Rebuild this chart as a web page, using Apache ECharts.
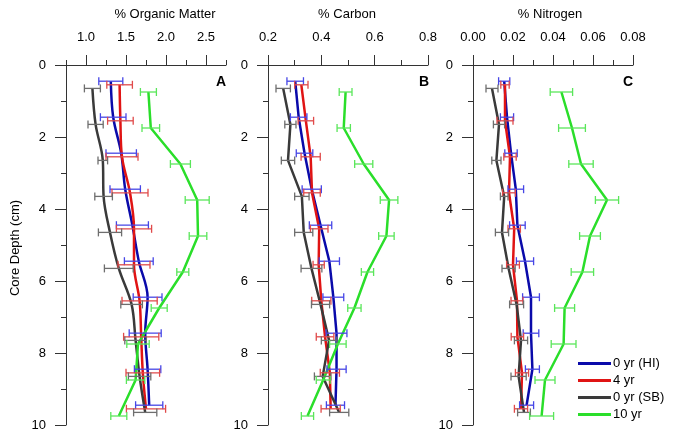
<!DOCTYPE html>
<html><head><meta charset="utf-8">
<script src="https://cdn.jsdelivr.net/npm/echarts@6/dist/echarts.min.js"></script>
<style>html,body{margin:0;padding:0;background:#fff}#c{width:677px;height:437px}</style>
</head><body><div id="c"></div>
<script>
// ---- data ----
const seriesNames = ['0 yr (HI)', '4 yr', '0 yr (SB)', '10 yr'];
const panelTitles = ['% Organic Matter', '% Carbon', '% Nitrogen'];
const panelLetters = ['A', 'B', 'C'];
const depthTicks = [0, 2, 4, 6, 8, 10];

const depthHI = [0.45, 1.45, 2.45, 3.45, 4.45, 5.45, 6.45, 7.45, 8.45, 9.45];
const depth4  = [0.55, 1.55, 2.55, 3.55, 4.55, 5.55, 6.55, 7.55, 8.55, 9.55];
const depthSB = [0.65, 1.65, 2.65, 3.65, 4.65, 5.65, 6.65, 7.65, 8.65, 9.65];
const depth10 = [0.75, 1.75, 2.75, 3.75, 4.75, 5.75, 6.75, 7.75, 8.75, 9.75];

const omHI = [1.31, 1.34, 1.44, 1.49, 1.58, 1.66, 1.77, 1.74, 1.77, 1.79];
const omHIErr = [0.15, 0.16, 0.19, 0.19, 0.20, 0.18, 0.18, 0.20, 0.165, 0.17];
const om4 = [1.42, 1.43, 1.45, 1.55, 1.60, 1.60, 1.67, 1.69, 1.71, 1.75];
const om4Err = [0.16, 0.16, 0.20, 0.225, 0.22, 0.20, 0.22, 0.22, 0.21, 0.245];
const omSB = [1.08, 1.12, 1.21, 1.22, 1.30, 1.41, 1.57, 1.62, 1.67, 1.74];
const omSBErr = [0.10, 0.095, 0.06, 0.11, 0.145, 0.18, 0.135, 0.135, 0.14, 0.145];
const om10 = [1.78, 1.81, 2.18, 2.39, 2.40, 2.21, 1.915, 1.65, 1.62, 1.41];
const om10Err = [0.10, 0.11, 0.125, 0.15, 0.11, 0.075, 0.10, 0.14, 0.115, 0.10];

const cHI = [0.302, 0.315, 0.337, 0.364, 0.397, 0.43, 0.445, 0.457, 0.457, 0.453];
const cHIErr = [0.031, 0.031, 0.031, 0.036, 0.042, 0.038, 0.039, 0.039, 0.036, 0.034];
const c4 = [0.325, 0.342, 0.36, 0.365, 0.392, 0.39, 0.40, 0.414, 0.432, 0.435];
const c4Err = [0.025, 0.029, 0.036, 0.031, 0.033, 0.021, 0.036, 0.033, 0.036, 0.036];
const cSB = [0.257, 0.284, 0.275, 0.327, 0.334, 0.363, 0.397, 0.429, 0.405, 0.467];
const cSBErr = [0.027, 0.021, 0.025, 0.027, 0.034, 0.039, 0.034, 0.029, 0.031, 0.036];
const c10 = [0.491, 0.484, 0.559, 0.654, 0.644, 0.573, 0.524, 0.462, 0.407, 0.348];
const c10Err = [0.024, 0.025, 0.034, 0.033, 0.029, 0.023, 0.025, 0.031, 0.026, 0.023];

const nHI = [0.0156, 0.017, 0.019, 0.0214, 0.0222, 0.026, 0.029, 0.029, 0.0297, 0.0268];
const nHIErr = [0.0028, 0.0033, 0.0031, 0.0039, 0.0039, 0.0043, 0.0042, 0.0039, 0.0035, 0.0035];
const n4 = [0.016, 0.016, 0.0185, 0.018, 0.0206, 0.020, 0.022, 0.0222, 0.0245, 0.024];
const n4Err = [0.0021, 0.004, 0.0031, 0.0032, 0.0031, 0.0032, 0.003, 0.0031, 0.0033, 0.0033];
const nSB = [0.0095, 0.013, 0.0117, 0.0156, 0.0145, 0.0178, 0.0218, 0.024, 0.0228, 0.0255];
const nSBErr = [0.003, 0.0028, 0.0023, 0.0019, 0.0033, 0.0033, 0.0035, 0.0033, 0.0038, 0.0032];
const n10 = [0.0442, 0.0495, 0.054, 0.067, 0.0585, 0.0547, 0.0458, 0.0453, 0.036, 0.0343];
const n10Err = [0.0056, 0.0067, 0.0061, 0.0058, 0.0052, 0.0056, 0.005, 0.0062, 0.005, 0.006];

// ---- styling / layout ----
const FONT = 'Liberation Sans, Arial, sans-serif';
const lineColors = ['#0a0aaa', '#e01414', '#3a3a3a', '#2ade2a'];
const errColors  = ['#4646e6', '#e04a4a', '#6e6e6e', '#5ae65a'];
const depths = [depthHI, depth4, depthSB, depth10];
const panels = [
  { vals: [omHI, om4, omSB, om10], errs: [omHIErr, om4Err, omSBErr, om10Err],
    min: 0.75, max: 2.75, minor: 0.25, majors: [1, 1.5, 2, 2.5], dec: 1, left: 66, letterX: 221, smooth: [0.35, 0.35, 0.35, 0] },
  { vals: [cHI, c4, cSB, c10], errs: [cHIErr, c4Err, cSBErr, c10Err],
    min: 0.2, max: 0.8, minor: 0.1, majors: [0.2, 0.4, 0.6, 0.8], dec: 1, left: 268, letterX: 424, smooth: [0, 0, 0, 0] },
  { vals: [nHI, n4, nSB, n10], errs: [nHIErr, n4Err, nSBErr, n10Err],
    min: 0, max: 0.08, minor: 0.01, majors: [0, 0.02, 0.04, 0.06, 0.08], dec: 2, left: 473, letterX: 628, smooth: [0, 0, 0, 0] }
];
const GTOP = 65, GH = 360, GW = 160;
const axisCol = '#333';

const grid = [], xAxis = [], yAxis = [], series = [], graphic = [];
panels.forEach((p, g) => {
  grid.push({ left: p.left, top: GTOP, width: GW, height: GH });
  xAxis.push({
    type: 'value', gridIndex: g, position: 'top', min: p.min, max: p.max, interval: p.minor,
    axisLine: { show: true, onZero: false, lineStyle: { color: axisCol, width: 1 } },
    axisTick: { show: true, length: 10, customValues: p.majors, lineStyle: { color: axisCol } },
    axisLabel: { show: true, customValues: p.majors, margin: 21, fontSize: 13, color: '#000', fontFamily: FONT,
      formatter: v => Number(v).toFixed(p.dec) },
    splitLine: { show: false }
  });
  xAxis.push({
    type: 'value', gridIndex: g, position: 'top', min: p.min, max: p.max, interval: p.minor,
    axisLine: { show: false, onZero: false },
    axisTick: { show: true, length: 5, lineStyle: { color: axisCol } },
    axisLabel: { show: false }, splitLine: { show: false }
  });
  yAxis.push({
    type: 'value', gridIndex: g, inverse: true, min: 0, max: 10, interval: 2, position: 'left',
    axisLine: { show: true, onZero: false, lineStyle: { color: axisCol, width: 1 } },
    axisTick: { show: true, length: 11, lineStyle: { color: axisCol } },
    axisLabel: { show: true, margin: 20, fontSize: 13, color: '#000', fontFamily: FONT,
      formatter: v => String(v) },
    splitLine: { show: false }
  });
  yAxis.push({
    type: 'value', gridIndex: g, inverse: true, min: 0, max: 10, interval: 1, position: 'left',
    axisLine: { show: false, onZero: false },
    axisTick: { show: true, length: 5, lineStyle: { color: axisCol } },
    axisLabel: { show: false }, splitLine: { show: false }
  });

  for (let s = 0; s < 4; s++) {
    const vals = p.vals[s], dep = depths[s];
    series.push({
      name: seriesNames[s], type: 'line', xAxisIndex: 2 * g, yAxisIndex: 2 * g,
      data: vals.map((v, i) => [v, dep[i]]),
      symbol: 'none', silent: true, animation: false, z: 2, smooth: p.smooth[s] || false,
      lineStyle: { color: lineColors[s], width: 2.5 }, itemStyle: { color: lineColors[s] }
    });
  }
  for (let s = 0; s < 4; s++) {
    const vals = p.vals[s], errs = p.errs[s], dep = depths[s];
    const col = errColors[s];
    series.push({
      name: seriesNames[s], type: 'custom', xAxisIndex: 2 * g, yAxisIndex: 2 * g,
      data: vals.map((v, i) => [v, dep[i], errs[i]]),
      encode: { x: 0, y: 1 }, animation: false, silent: true, z: 3,
      itemStyle: { color: lineColors[s] },
      renderItem: (params, api) => {
        const x = api.value(0), y = api.value(1), e = api.value(2);
        const a = api.coord([x - e, y]), b = api.coord([x + e, y]);
        const st = { stroke: col, lineWidth: 1.3, fill: null };
        const h = 4;
        return { type: 'group', children: [
          { type: 'line', shape: { x1: a[0], y1: a[1], x2: b[0], y2: b[1] }, style: st },
          { type: 'line', shape: { x1: a[0], y1: a[1] - h, x2: a[0], y2: a[1] + h }, style: st },
          { type: 'line', shape: { x1: b[0], y1: b[1] - h, x2: b[0], y2: b[1] + h }, style: st }
        ]};
      }
    });
  }
  graphic.push({ type: 'text', x: p.letterX, y: 82,
    style: { text: panelLetters[g], font: 'bold 14px ' + FONT, fill: '#000', textAlign: 'center', textVerticalAlign: 'middle' } });
});

const titleX = [165, 347, 550];
panelTitles.forEach((t, i) => graphic.push({ type: 'text', x: titleX[i], y: 14,
  style: { text: t, font: '13px ' + FONT, fill: '#000', textAlign: 'center', textVerticalAlign: 'middle' } }));
graphic.push({ type: 'text', x: 15, y: 248, rotation: Math.PI / 2,
  style: { text: 'Core Depth (cm)', font: '13px ' + FONT, fill: '#000', textAlign: 'center', textVerticalAlign: 'middle' } });

const option = {
  backgroundColor: '#fff',
  animation: false,
  grid, xAxis, yAxis, series, graphic,
  legend: {
    orient: 'vertical', left: 578, top: 357, padding: 0, itemGap: 4,
    itemWidth: 33, itemHeight: 3, icon: 'rect',
    data: seriesNames.map((n, i) => ({ name: n, itemStyle: { color: lineColors[i] } })),
    textStyle: { fontSize: 13, fontFamily: FONT, color: '#000', lineHeight: 13, padding: [0, 0, 0, -3] },
    selectedMode: false
  }
};
const chart = echarts.init(document.getElementById('c'), null, { renderer: 'canvas' });
chart.setOption(option);
</script></body></html>
